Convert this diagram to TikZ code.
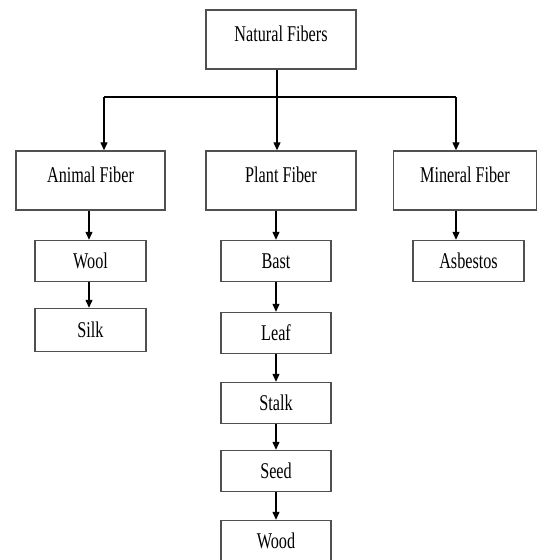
\documentclass[tikz,border=0pt]{standalone}
\usepackage{fontspec}
\setmainfont{Liberation Serif}[FakeStretch=0.72]
\usepackage{xcolor}
\usepackage{tikz}
\usetikzlibrary{positioning,calc,arrows.meta}

\definecolor{boxline}{HTML}{505050}

\begin{document}
\begin{tikzpicture}[x=1pt,y=-1pt,
		box/.style={draw=boxline, line width=1.4pt, rectangle, inner sep=0pt, font=\fontsize{22.5}{26}\selectfont, text height=15pt, text depth=12pt},
		bigbox/.style={box, minimum width=150pt, minimum height=59pt},
		smallbox/.style={box, minimum width=111pt, minimum height=41pt, text depth=0pt},
		arr/.style={-{Triangle[length=8pt,width=7pt]}, line width=1.2pt, black},
		wire/.style={line width=1.2pt, black}]
	\useasboundingbox (0,0) rectangle (537,560);

	% top level
	\node[bigbox] (nat) at (281,39.5) {Natural Fibers};

	% second level
	\node[bigbox, minimum width=149pt] (animal) at (90.5,180.5) {Animal Fiber};
	\node[bigbox] (plant) at (281,180.5) {Plant Fiber};
	\node[bigbox, minimum width=143pt] (mineral) at (465,180.5) {Mineral Fiber};

	% third level
	\node[smallbox] (wool) at (90.5,261) {Wool};
	\node[smallbox, minimum height=43pt] (silk) at (90.5,330) {Silk};
	\node[smallbox, minimum width=110pt] (bast) at (276,261) {Bast};
	\node[smallbox, minimum width=110pt] (leaf) at (276,333) {Leaf};
	\node[smallbox, minimum width=110pt] (stalk) at (276,403) {Stalk};
	\node[smallbox, minimum width=110pt] (seed) at (276,471) {Seed};
	\node[smallbox, minimum width=110pt] (wood) at (276,541) {Wood};
	\node[smallbox] (asb) at (468.5,261) {Asbestos};

	% branching
	\coordinate (split) at (277,97);
	\coordinate (lft) at (104,97);
	\coordinate (rgt) at (456,97);
	\draw[wire] (nat.south -| split) -- (split);
	\draw[wire] (lft) -- (rgt);
	\draw[arr] (lft) -- (animal.north -| lft);
	\draw[arr] (split) -- (plant.north -| split);
	\draw[arr] (rgt) -- (mineral.north -| rgt);

	% columns
	\draw[arr] (animal.south -| 89,0) -- (wool.north -| 89,0);
	\draw[arr] (wool.south -| 89,0) -- (silk.north -| 89,0);
	\draw[arr] (plant.south -| bast) -- (bast);
	\draw[arr] (bast) -- (leaf);
	\draw[arr] (leaf) -- (stalk);
	\draw[arr] (stalk) -- (seed);
	\draw[arr] (seed) -- (wood);
	\draw[arr] (mineral.south -| rgt) -- (asb.north -| rgt);
\end{tikzpicture}
\end{document}
